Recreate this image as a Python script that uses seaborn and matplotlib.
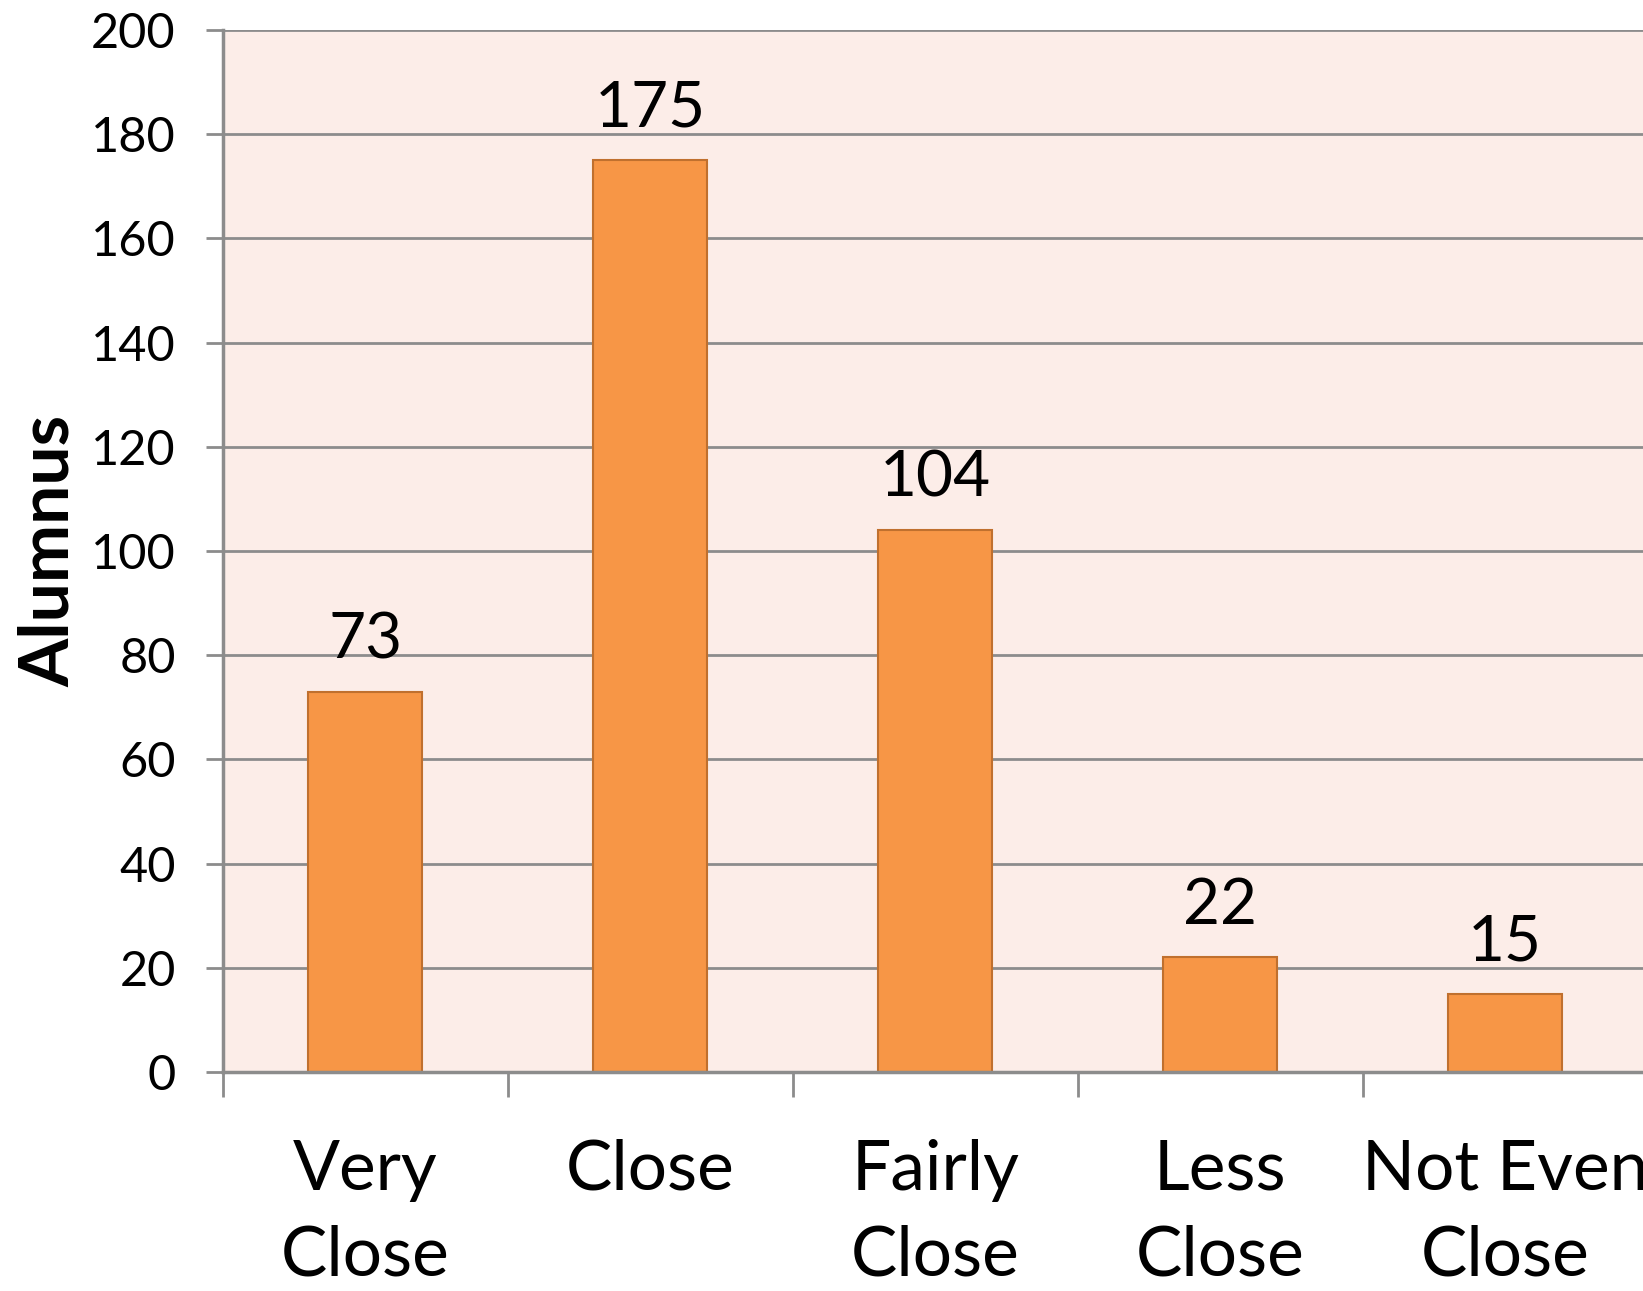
import numpy as np
import pandas as pd
import seaborn as sns
import matplotlib.pyplot as plt

categories = ['Very\nClose', 'Close', 'Fairly\nClose', 'Less\nClose', 'Not Even\nClose']
alumni = [73, 175, 104, 22, 15]

sns.set_style('white')
plt.rcParams['font.family'] = ['Lato', 'DejaVu Sans']
plt.rcParams['text.color'] = 'black'
plt.rcParams['xtick.color'] = 'black'
plt.rcParams['ytick.color'] = 'black'
plt.rcParams['axes.labelcolor'] = 'black'

df = pd.DataFrame({'closeness': categories, 'alumni': alumni})

fig = plt.figure(figsize=(16.43, 12.91), dpi=100)
ax = fig.add_axes([0.1357, 0.1696, 0.867, 0.8072])
ax.set_facecolor('#FCEDE8')

sns.barplot(ax=ax, data=df, x='closeness', y='alumni', color='#F79646',
            edgecolor='#C0702E', linewidth=1.5, width=0.4, saturation=1)

for i, v in enumerate(alumni):
    ax.annotate(str(v), (i, v), xytext=(0, 16), textcoords='offset points',
                ha='center', va='bottom', fontsize=46)

ax.set_ylim(0, 200)
ax.set_xlim(-0.5, 4.5)
ax.set_yticks(np.arange(0, 201, 20))
ax.yaxis.grid(True, color='#8C8C8C', linewidth=2)
ax.set_axisbelow(True)

for s in ['top', 'right']:
    ax.spines[s].set_visible(False)
for s in ['left', 'bottom']:
    ax.spines[s].set_color('#8C8C8C')
    ax.spines[s].set_linewidth(2.5)

ax.tick_params(axis='y', which='major', length=12, width=2, color='#8C8C8C',
               pad=22, labelsize=35, left=True, labelcolor='black')
ax.tick_params(axis='x', which='major', length=0, pad=48, labelsize=50, labelcolor='black')
ax.set_xticks(np.arange(-0.5, 4.6, 1), minor=True)
ax.tick_params(axis='x', which='minor', length=18, width=2, color='#8C8C8C', bottom=True)
plt.setp(ax.get_xticklabels(), linespacing=1.45)

ax.set_xlabel('')
ax.set_ylabel('Alumnus', fontsize=50, fontweight='bold')
ax.yaxis.set_label_coords(-0.1, 0.5)

plt.savefig('out.png', dpi=100)
plt.close()
